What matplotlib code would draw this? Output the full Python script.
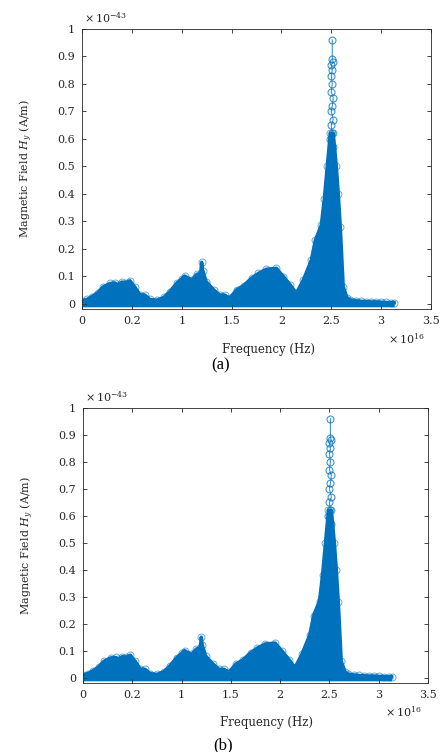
import numpy as np
import matplotlib
matplotlib.use("Agg")
import matplotlib.pyplot as plt

plt.rcParams['font.family'] = ['DejaVu Serif']
plt.rcParams['mathtext.fontset'] = 'dejavuserif'

# envelope of the spectrum (x in 1e16 Hz, y in 1e-43 A/m)
env_x = [0.00, 0.05, 0.10, 0.16, 0.21, 0.28, 0.33, 0.36, 0.40, 0.44, 0.48, 0.53,
         0.58, 0.63, 0.68, 0.75, 0.82, 0.88, 0.95, 1.00, 1.03, 1.10, 1.15, 1.19,
         1.20, 1.21, 1.245, 1.32, 1.38, 1.43, 1.48, 1.55, 1.62, 1.70, 1.77, 1.85,
         1.95, 2.02, 2.09, 2.15, 2.22, 2.30, 2.34, 2.40, 2.43, 2.46, 2.49, 2.52,
         2.55, 2.57, 2.59, 2.62, 2.66, 2.69, 2.75, 2.80, 2.85, 2.90, 2.95, 3.00,
         3.05, 3.10, 3.13]
env_y = [0.010, 0.015, 0.025, 0.040, 0.060, 0.073, 0.075, 0.068, 0.078, 0.076, 0.083, 0.060,
         0.032, 0.031, 0.015, 0.012, 0.022, 0.043, 0.074, 0.090, 0.100, 0.086, 0.106, 0.110,
         0.150, 0.120, 0.080, 0.050, 0.031, 0.031, 0.019, 0.050, 0.065, 0.092, 0.110, 0.125,
         0.128, 0.098, 0.067, 0.037, 0.086, 0.158, 0.230, 0.286, 0.380, 0.500, 0.620, 0.620,
         0.500, 0.400, 0.280, 0.060, 0.020, 0.013, 0.010, 0.008, 0.007, 0.006, 0.006, 0.005,
         0.004, 0.003, 0.003]

# isolated samples on the main peak
spike_x = [2.51, 2.51, 2.52, 2.50, 2.51, 2.50, 2.51, 2.50, 2.52, 2.51, 2.50, 2.52, 2.50, 2.51, 2.49, 2.52, 2.50, 2.51]
spike_y = [0.96, 0.89, 0.88, 0.87, 0.85, 0.83, 0.80, 0.77, 0.75, 0.72, 0.70, 0.67, 0.65, 0.62, 0.60, 0.57, 0.55, 0.52]

xticks = [0, 0.5, 1, 1.5, 2, 2.5, 3, 3.5]
xtick_labels = ['0', '0.2', '1', '1.5', '2', '2.5', '3', '3.5']
yticks = [0, 0.1, 0.2, 0.3, 0.4, 0.5, 0.6, 0.7, 0.8, 0.9, 1]
ytick_labels = ['0', '0.1', '0.2', '0.3', '0.4', '0.5', '0.6', '0.7', '0.8', '0.9', '1']

blue = '#0072BD'
txt = '#262626'

fig = plt.figure(figsize=(4.45, 7.52), dpi=100)
ax_a = fig.add_axes([82/445, 1 - 309/752, 349/445, 280/752])
ax_b = fig.add_axes([83/445, 1 - 683/752, 345/445, 275/752])

for ax, tag, tag_x, tag_y in [(ax_a, '(a)', 221, 365), (ax_b, '(b)', 223, 745)]:
    ax.fill_between(env_x, -0.012, env_y, color=blue, lw=0)
    # fuzzy edge of the densely packed samples
    ax.plot(env_x, env_y, '-', color=blue, lw=2.5, solid_joinstyle='round')
    ax.plot(env_x, env_y, 'o', color=blue, mfc='none', ms=5, mew=0.7, alpha=0.6)
    ax.plot(spike_x, spike_y, 'o-', color=blue, mfc='none', ms=5, mew=0.8, lw=0.8, alpha=0.75)

    ax.set_xlim(0, 3.5)
    ax.set_ylim(-0.02, 1)
    ax.set_xticks(xticks)
    ax.set_xticklabels(xtick_labels)
    ax.set_yticks(yticks)
    ax.set_yticklabels(ytick_labels)
    ax.tick_params(direction='in', length=3, width=0.6, colors=txt, labelsize=8,
                   top=True, right=True, pad=5)
    for sp in ax.spines.values():
        sp.set_color(txt)
        sp.set_linewidth(0.6)

    ax.set_xlabel('Frequency (Hz)', fontsize=8.5, color=txt)
    ax.xaxis.set_label_coords(0.533, -0.12)
    ax.set_ylabel(r'Magnetic Field $H_y$ (A/m)', fontsize=8, color=txt)
    ax.yaxis.set_label_coords(-0.135, 0.5)

    ax.text(0.005, 1.015, r'$\times\,10^{-43}$', transform=ax.transAxes, fontsize=8,
            color=txt, ha='left', va='bottom')
    ax.text(0.93, -0.105, r'$\times\,10^{16}$', transform=ax.transAxes, fontsize=8,
            color=txt, ha='center', va='center')

    fig.text(tag_x/445, 1 - tag_y/752, tag, fontsize=12, family='Liberation Serif',
             ha='center', va='center')

fig.savefig('out.png', dpi=100)
